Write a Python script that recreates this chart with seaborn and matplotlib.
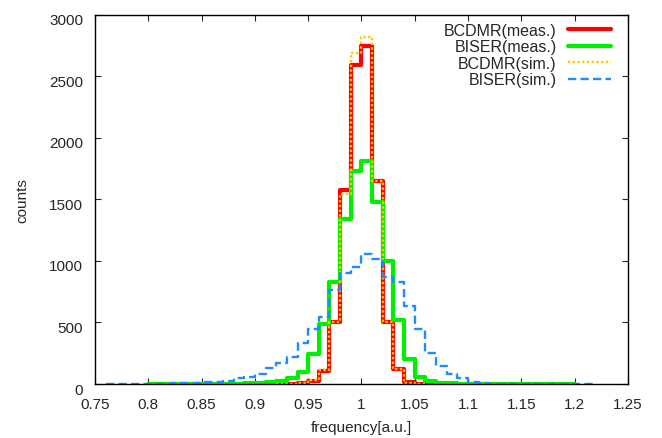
import numpy as np
import pandas as pd
import matplotlib
matplotlib.use('Agg')
import matplotlib.pyplot as plt
import matplotlib.transforms as mtrans
import seaborn as sns

# histogram counts per 0.01 bin, keyed by the left edge of the first bin
bcdmr_meas_start = 0.91
bcdmr_meas = [2, 3, 3, 8, 27, 108, 507, 1580, 2590, 2750,
              1653, 507, 122, 13, 4, 2]

biser_meas_start = 0.80
biser_meas = [2, 2, 2, 2, 2, 3, 3, 3, 4, 5,
              8, 13, 27, 46, 95, 244, 488, 827, 1341, 1734,
              1810, 1477, 1000, 523, 203, 54, 27, 10, 5, 3,
              2, 2, 2, 2, 2, 2, 2, 2, 2, 2]

bcdmr_sim_start = 0.92
bcdmr_sim = [2, 3, 8, 30, 115, 500, 1545, 2690, 2820, 1650,
             500, 125, 12, 3]

biser_sim_start = 0.76
biser_sim = [3, 3, 3, 3, 4, 4, 5, 8, 10, 15,
             20, 25, 50, 58, 78, 130, 170, 217, 331, 447,
             542, 765, 905, 951, 1060, 1016, 867, 829, 637, 447,
             252, 149, 81, 46, 13, 6, 4, 3, 3, 3,
             3, 3, 3, 3, 3, 3]

labels = ['BCDMR(meas.)', 'BISER(meas.)', 'BCDMR(sim.)', 'BISER(sim.)']
xtick_labels = ['0.75', '0.8', '0.85', '0.9', '0.95', '1', '1.05',
                '1.1', '1.15', '1.2', '1.25']
bin_width = 0.01


def step_frame(start, counts):
    ''' bin edges + counts, last value repeated for steps-post '''
    edges = start + bin_width * np.arange(len(counts) + 1)
    return pd.DataFrame({'freq': edges, 'counts': list(counts) + [counts[-1]]})


sns.set_style('ticks')
plt.rcParams['font.family'] = ['Liberation Sans', 'DejaVu Sans']

fig = plt.figure(figsize=(6.62, 4.39), dpi=100)
ax = fig.add_axes([0.1435, 0.123, 0.805, 0.841])

styles = [
    dict(color='#ff0000', lw=3.0, ls='-'),
    dict(color='#00ee00', lw=3.0, ls='-'),
    dict(color='#ffc800', lw=1.7, ls=(0, (1, 1))),
    dict(color='#1e8cff', lw=1.7, ls=(0, (3.5, 1.8))),
]
series = [(bcdmr_meas_start, bcdmr_meas), (biser_meas_start, biser_meas),
          (bcdmr_sim_start, bcdmr_sim), (biser_sim_start, biser_sim)]

for (start, counts), lab, st in zip(series, labels, styles):
    df = step_frame(start, counts)
    sns.lineplot(data=df, x='freq', y='counts', ax=ax, label=lab,
                 drawstyle='steps-post', color=st['color'],
                 linewidth=st['lw'], linestyle=st['ls'])

ax.set_xlim(0.75, 1.25)
ax.set_ylim(0, 3000)
ax.set_xticks(np.arange(0.75, 1.26, 0.05))
ax.set_xticklabels(xtick_labels)
ax.set_yticks(np.arange(0, 3001, 500))
ax.tick_params(direction='in', top=True, right=True, length=4.5,
               width=0.8, labelsize=11)
ax.tick_params(axis='x', pad=9)
ax.tick_params(axis='y', pad=8.5)
# gnuplot puts the y labels a little below their ticks
shift = mtrans.ScaledTranslation(0, -4 / 100, fig.dpi_scale_trans)
for lab in ax.get_yticklabels():
    lab.set_transform(lab.get_transform() + shift)
for sp in ax.spines.values():
    sp.set_visible(True)
    sp.set_linewidth(1.0)
    sp.set_color('black')

ax.set_xlabel('frequency[a.u.]', fontsize=11, labelpad=7)
ax.set_ylabel('counts', fontsize=11, labelpad=14)

ax.legend(loc='upper right', bbox_to_anchor=(0.968, 0.978), frameon=False,
          markerfirst=False, fontsize=11.5, handlelength=2.7,
          labelspacing=0.09, borderpad=0, borderaxespad=0, handletextpad=0.7)

fig.savefig('out.png', dpi=100)
